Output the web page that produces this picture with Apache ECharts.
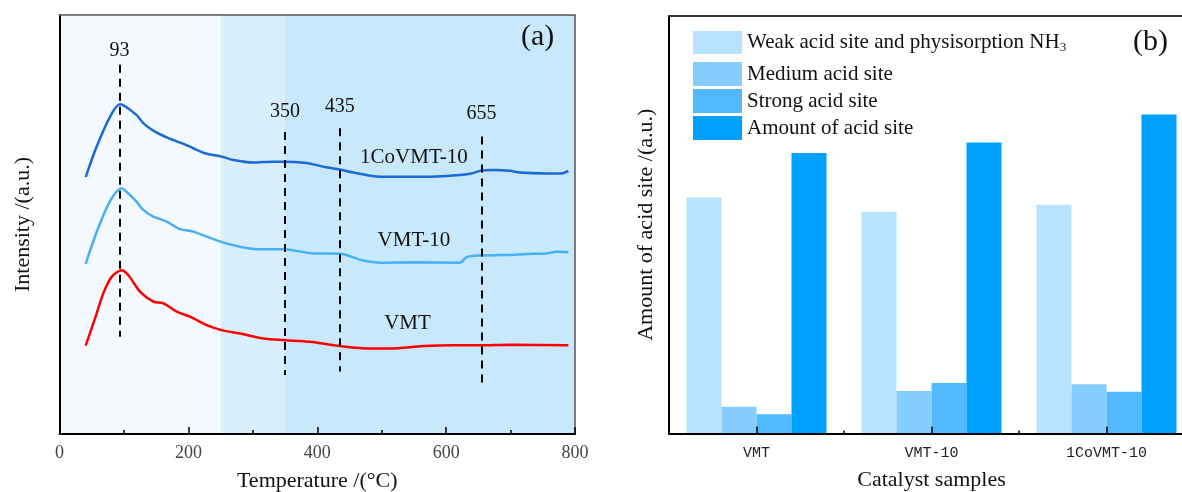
<!DOCTYPE html>
<html>
<head>
<meta charset="utf-8">
<script src="https://cdn.jsdelivr.net/npm/echarts@6/dist/echarts.min.js"></script>
<style>
  html, body { margin: 0; padding: 0; background: #fff; }
  #chart { width: 1182px; height: 492px; }
</style>
</head>
<body>
<div id="chart"></div>
<script>
// ---- (a) NH3-TPD curves: temperature (°C) and intensity (a.u.) ----
const tempCo = [40.7, 57.7, 78.4, 93.9, 119.8, 130, 145.6, 166.4, 189.6, 207.6, 225.8, 251.7, 269.7, 300.7, 331.8, 342.2, 383.6, 409.4, 432.6, 455.9, 497.4, 549, 600.9, 637, 652.6, 673.2, 699.1, 714.6, 756, 779.3, 789.6];
const intenCo = [61.3, 68.6, 75.7, 78.7, 76.1, 74.2, 72.4, 70.8, 69.4, 68.2, 67.0, 66.2, 65.4, 64.8, 65.0, 65.0, 64.7, 63.8, 63.2, 62.4, 61.4, 61.4, 61.6, 62.1, 62.8, 63.0, 62.8, 62.4, 62.2, 62.2, 62.8];

const tempV10 = [40.7, 57.7, 78.4, 96.5, 106.8, 119.8, 130, 145.6, 166.4, 187, 207.6, 228.4, 251.7, 280.1, 306, 347.3, 393.9, 435.3, 471.4, 497.4, 549, 621.4, 631.9, 652.6, 704.2, 735.3, 756, 771.6, 789.6];
const intenV10 = [40.6, 48.2, 55.6, 58.6, 57.4, 55.4, 53.5, 51.9, 50.7, 48.9, 48.3, 47.1, 45.8, 44.7, 44.1, 44.1, 43.1, 43.0, 41.4, 40.9, 41.0, 40.9, 42.2, 42.6, 42.8, 43.0, 43.1, 43.5, 43.4];

const tempVMT = [40.7, 57.7, 68.0, 81.0, 96.5, 106.8, 124.9, 145.6, 161.1, 181.9, 202.5, 228.4, 251.7, 280.1, 316.3, 350, 388.8, 435.3, 481.9, 512.9, 564.6, 611.1, 657.7, 704.2, 789.6];
const intenVMT = [21.1, 28.8, 33.6, 37.5, 39.1, 37.9, 34.0, 31.6, 31.2, 29.2, 28.0, 26.0, 24.8, 24.0, 22.8, 22.4, 22.0, 21.0, 20.4, 20.4, 21.0, 21.2, 21.2, 21.3, 21.2];

// desorption peak markers (°C) and the span of each dashed guide (a.u.)
const peakTemps = [93, 350, 435, 655];
const peakTop = [88.1, 72.1, 73.0, 71.0];
const peakBottom = [23.2, 14.1, 14.9, 11.9];

// temperature zones shaded behind the curves
const zoneEdges = [0, 250, 350, 800];

// ---- (b) acid amounts per catalyst (a.u.) ----
const samples = ['VMT', 'VMT-10', '1CoVMT-10'];
const weakAcid = [56.5, 53.1, 54.8];
const mediumAcid = [6.4, 10.2, 11.8];
const strongAcid = [4.6, 12.1, 10.0];
const totalAcid = [67.2, 69.7, 76.4];

const SERIF = '"Liberation Serif", "Times New Roman", serif';
const zoneColors = ['#f3f9fe', '#d9effd', '#c8e8fc'];
const barColors = ['#b9e3fd', '#84cdfd', '#51bafe', '#00a0ff'];
const labelDist = [4, 10, 11, 13];

const zip = (xs, ys) => xs.map((x, i) => [x, ys[i]]);

const chart = echarts.init(document.getElementById('chart'), null, { renderer: 'canvas' });

const axisBlack = { show: true, onZero: false, lineStyle: { color: '#000', width: 2 } };
const frameLine = { show: true, onZero: false, lineStyle: { color: '#555', width: 1.5 } };
const hidden = { show: false };

const curveLabel = (name, coord) => ({
  symbol: 'circle', symbolSize: 0,
  label: { show: true, position: 'inside', formatter: name, color: '#111', fontFamily: SERIF, fontSize: 21 },
  data: [{ coord: coord }]
});

const option = {
  animation: false,
  backgroundColor: '#fff',
  textStyle: { fontFamily: SERIF },
  grid: [
    { left: 59.5, top: 15, width: 515.5, height: 419, outerBoundsMode: 'none' },
    { left: 669, top: 16, width: 525, height: 417.5, outerBoundsMode: 'none' }
  ],
  xAxis: [
    {
      gridIndex: 0, type: 'value', min: 0, max: 800, interval: 200, z: 10,
      axisLine: axisBlack,
      axisTick: { show: true, inside: true, length: 7, lineStyle: { color: '#000', width: 1.5 } },
      minorTick: { show: true, splitNumber: 2, length: 4, lineStyle: { color: '#000', width: 1.5 } },
      axisLabel: { color: '#444', fontSize: 18, fontFamily: SERIF, margin: 10 },
      splitLine: hidden,
      name: 'Temperature /(°C)', nameLocation: 'middle', nameGap: 36,
      nameTextStyle: { color: '#111', fontSize: 22, fontFamily: SERIF }
    },
    {
      gridIndex: 0, type: 'value', min: 0, max: 800, position: 'top', z: 10,
      axisLine: frameLine, axisTick: hidden, axisLabel: hidden, splitLine: hidden
    },
    {
      gridIndex: 1, type: 'category', data: samples, z: 10,
      axisLine: axisBlack,
      axisTick: { show: true, inside: true, alignWithLabel: true, length: 7, lineStyle: { color: '#000', width: 1.5 } },
      axisLabel: { color: '#222', fontSize: 15, fontFamily: '"Liberation Mono", monospace', margin: 12 },
      name: 'Catalyst samples', nameLocation: 'middle', nameGap: 36,
      nameTextStyle: { color: '#111', fontSize: 22, fontFamily: SERIF }
    },
    {
      gridIndex: 1, type: 'category', data: samples, position: 'bottom', z: 10,
      axisLine: hidden,
      axisTick: { show: true, inside: true, alignWithLabel: false, length: 3, lineStyle: { color: '#000', width: 1.5 } },
      axisLabel: hidden
    },
    {
      gridIndex: 1, type: 'category', data: samples, position: 'top', z: 10,
      axisLine: { show: true, onZero: false, lineStyle: { color: '#333', width: 2 } },
      axisTick: hidden, axisLabel: hidden
    }
  ],
  yAxis: [
    {
      gridIndex: 0, type: 'value', min: 0, max: 100, z: 10,
      axisLine: axisBlack, axisTick: hidden, axisLabel: hidden, splitLine: hidden,
      name: 'Intensity /(a.u.)', nameLocation: 'middle', nameGap: 25,
      nameTextStyle: { color: '#111', fontSize: 22, fontFamily: SERIF }
    },
    {
      gridIndex: 0, type: 'value', min: 0, max: 100, position: 'right', z: 10,
      axisLine: frameLine, axisTick: hidden, axisLabel: hidden, splitLine: hidden
    },
    {
      gridIndex: 1, type: 'value', min: 0, max: 100, z: 10,
      axisLine: axisBlack, axisTick: hidden, axisLabel: hidden, splitLine: hidden,
      name: 'Amount of acid site /(a.u.)', nameLocation: 'middle', nameGap: 12,
      nameTextStyle: { color: '#111', fontSize: 22, fontFamily: SERIF }
    }
  ],
  legend: [
    {
      left: 693, top: 31, padding: 0, orient: 'vertical', itemWidth: 49, itemHeight: 23, itemGap: 3,
      icon: 'rect', data: ['Weak acid site and physisorption NH3'],
      formatter: () => '{n|Weak acid site and physisorption NH}{s|3}',
      textStyle: {
        color: '#111',
        rich: {
          n: { fontSize: 21, fontFamily: SERIF, lineHeight: 24, color: '#111' },
          s: { fontSize: 13, fontFamily: SERIF, verticalAlign: 'bottom', color: '#111' }
        }
      }
    },
    {
      left: 693, top: 62, padding: 0, orient: 'vertical', itemWidth: 49, itemHeight: 24, itemGap: 3,
      icon: 'rect', data: ['Medium acid site', 'Strong acid site', 'Amount of acid site'],
      textStyle: { color: '#111', fontSize: 21, fontFamily: SERIF, lineHeight: 24 }
    }
  ],
  graphic: [
    { type: 'text', z: 100, left: 521, top: 22, style: { text: '(a)', fontSize: 30, fontFamily: SERIF, fill: '#111' } },
    { type: 'text', z: 100, left: 1133, top: 27, style: { text: '(b)', fontSize: 30, fontFamily: SERIF, fill: '#111' } }
  ],
  series: [
    // shaded temperature zones
    {
      type: 'line', xAxisIndex: 0, yAxisIndex: 0, z: 1, silent: true,
      data: [[0, 0]], symbol: 'none', lineStyle: { width: 0 },
      markArea: {
        silent: true,
        data: zoneColors.map((c, i) => [
          { xAxis: zoneEdges[i], yAxis: 0, itemStyle: { color: c } },
          { xAxis: zoneEdges[i + 1], yAxis: 100 }
        ])
      }
    },
    {
      name: '1CoVMT-10', type: 'line', xAxisIndex: 0, yAxisIndex: 0, z: 3,
      data: zip(tempCo, intenCo), smooth: 0.3, symbol: 'none',
      lineStyle: { color: '#1b6ad6', width: 2.5 },
      markPoint: curveLabel('1CoVMT-10', [550, 66.1])
    },
    {
      name: 'VMT-10', type: 'line', xAxisIndex: 0, yAxisIndex: 0, z: 3,
      data: zip(tempV10, intenV10), smooth: 0.3, symbol: 'none',
      lineStyle: { color: '#47b0f6', width: 2.5 },
      markPoint: curveLabel('VMT-10', [550, 46.3])
    },
    {
      name: 'VMT', type: 'line', xAxisIndex: 0, yAxisIndex: 0, z: 3,
      data: zip(tempVMT, intenVMT), smooth: 0.3, symbol: 'none',
      lineStyle: { color: '#ff0000', width: 2.5 },
      markPoint: curveLabel('VMT', [540, 26.3])
    },
    // dashed guides at the desorption peaks
    {
      type: 'line', xAxisIndex: 0, yAxisIndex: 0, z: 4, silent: true,
      data: [[0, 0]], symbol: 'none', lineStyle: { width: 0 },
      markLine: {
        silent: true, symbol: 'none',
        lineStyle: { color: '#000', width: 2, type: [8, 6] },
        label: { show: true, position: 'start', color: '#111', fontSize: 20, fontFamily: SERIF },
        data: peakTemps.map((t, i) => [
          { coord: [t, peakTop[i]], label: { formatter: String(t), distance: labelDist[i] } },
          { coord: [t, peakBottom[i]] }
        ])
      }
    },
    // acid-site bars
    {
      name: 'Weak acid site and physisorption NH3', type: 'bar', xAxisIndex: 2, yAxisIndex: 2,
      data: weakAcid, barGap: '0%', barCategoryGap: '20%', itemStyle: { color: barColors[0] }
    },
    {
      name: 'Medium acid site', type: 'bar', xAxisIndex: 2, yAxisIndex: 2,
      data: mediumAcid, barGap: '0%', barCategoryGap: '20%', itemStyle: { color: barColors[1] }
    },
    {
      name: 'Strong acid site', type: 'bar', xAxisIndex: 2, yAxisIndex: 2,
      data: strongAcid, barGap: '0%', barCategoryGap: '20%', itemStyle: { color: barColors[2] }
    },
    {
      name: 'Amount of acid site', type: 'bar', xAxisIndex: 2, yAxisIndex: 2,
      data: totalAcid, barGap: '0%', barCategoryGap: '20%', itemStyle: { color: barColors[3] }
    }
  ]
};

chart.setOption(option);
</script>
</body>
</html>
